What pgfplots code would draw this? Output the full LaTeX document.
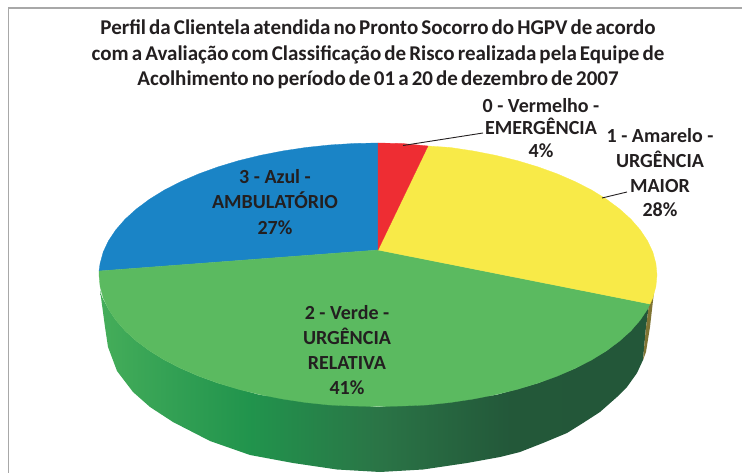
\documentclass[border=0pt]{standalone}
\usepackage{pgfplots}
\pgfplotsset{compat=1.18}
\usepackage{fontspec}
\setmainfont{Carlito}

\definecolor{vermelho}{HTML}{EE2D33}
\definecolor{amarelo}{HTML}{F8EA48}
\definecolor{verde}{HTML}{5BBA60}
\definecolor{azul}{HTML}{1A84C6}
\definecolor{texto}{HTML}{231F20}
\definecolor{moldura}{HTML}{A8A8A8}
\definecolor{lado}{HTML}{7F7434}

% side of the pie, 25bp = x 100 and 75bp = x 650
\pgfdeclarehorizontalshading{ladoverde}{100bp}{
  rgb(0bp)=(0.27,0.68,0.35);
  rgb(25bp)=(0.27,0.68,0.35);
  rgb(31.4bp)=(0.20,0.63,0.33);
  rgb(38.6bp)=(0.13,0.58,0.30);
  rgb(50.5bp)=(0.165,0.455,0.275);
  rgb(62.3bp)=(0.137,0.345,0.225);
  rgb(75bp)=(0.137,0.34,0.225);
  rgb(100bp)=(0.137,0.34,0.225)}

\newcommand{\titulofonte}{\fontsize{21}{25.5}\selectfont\bfseries\spaceskip=3.1pt\relax}

\begin{document}
\begin{tikzpicture}
\useasboundingbox (0,0) rectangle (742pt,473pt);
\begin{axis}[
  at={(0,0)}, anchor=south west,
  scale only axis, width=742pt, height=473pt,
  xmin=0, xmax=742, ymin=0, ymax=473, y dir=reverse,
  hide axis, clip=false, no markers,
  every axis plot/.append style={line width=0.3pt},
]
% frame
\addplot[moldura, line width=1.4pt] coordinates {(8.5,473) (8.5,8) (742,8)};

% side wall
\addplot[draw=none, shade, shading=ladoverde] coordinates {
  (100,290) (102,297) (108.5,309.2) (115.8,320.1) (125.1,330.8) (136.4,341) (149.4,350.7)
  (164.3,359.9) (180.7,368.3) (198.7,376.1) (218,383.1) (260,395) (378,407) (496,395)
  (538,383.1) (575.3,368.3) (606.6,350.7) (630.9,330.8) (649,304)
  (645.7,330) (643,360) (637,373) (627,387) (617,397) (600,412) (583,423) (567,433)
  (543,443) (520,452) (500,457) (467,463) (423,469.5) (380,472) (337,469.5) (293,463)
  (250,455) (210,441) (173,422) (150,407) (133,392) (117,371) (108,347) (105,327)
} -- cycle;
\addplot[draw=none, fill=lado] coordinates {
  (654,292) (650,327) (646,352) (643,360) (645.7,330) (649,304)
} -- cycle;

% top of the pie
\addplot[draw=azul, fill=azul] coordinates {
  (378,250) (99,271) (100.1,263.5) (103.2,252.1) (108.5,240.8) (115.8,229.9) (125.1,219.2)
  (136.4,209) (149.4,199.3) (164.3,190.1) (180.7,181.7) (198.7,173.9) (218,166.9)
  (238.5,160.7) (260.1,155.4) (282.6,151) (305.8,147.5) (329.6,145) (353.7,143.5) (378,143)
} -- cycle;
\addplot[draw=verde, fill=verde] coordinates {
  (378,250) (650,304) (647.5,309.2) (640.2,320.1) (630.9,330.8) (619.6,341) (606.6,350.7)
  (591.7,359.9) (575.3,368.3) (557.3,376.1) (538,383.1) (517.5,389.3) (495.9,394.6)
  (473.4,399) (450.2,402.5) (426.4,405) (402.3,406) (378,406.5) (353.7,406) (329.6,405)
  (305.8,402.5) (282.6,399) (260.1,394.6) (238.5,389.3) (218,383.1) (198.7,376.1)
  (180.7,368.3) (164.3,359.9) (149.4,350.7) (136.4,341) (125.1,330.8) (115.8,320.1)
  (108.5,309.2) (103.2,297.9) (100.1,286.5) (99,275) (99,271)
} -- cycle;
\addplot[draw=amarelo, fill=amarelo] coordinates {
  (378,250) (428,146) (450.2,147.5) (473.4,151) (495.9,155.4) (517.5,160.7) (538,166.9)
  (557.3,173.9) (575.3,181.7) (591.7,190.1) (606.6,199.3) (619.6,209) (630.9,219.2)
  (640.2,229.9) (647.5,240.8) (652.8,252.1) (655.9,263.5) (657,275) (655.9,286.5)
  (652.8,297.9) (650,304)
} -- cycle;
\addplot[draw=vermelho, fill=vermelho] coordinates {
  (378,250) (378,143) (402.3,143.5) (428,146)
} -- cycle;

% leader lines
\addplot[texto, line width=0.9pt] coordinates {(403,145.5) (483,133)};
\addplot[texto, line width=0.9pt] coordinates {(602,198) (627,192)};

\path[text=texto, align=center, inner sep=0pt]
  (axis cs:378,54.5) node[font=\titulofonte]
    {Perfil da Clientela atendida no Pronto Socorro do HGPV de acordo\\
    com a Avaliação com Classificação de Risco realizada pela Equipe de\\
    Acolhimento no período de 01 a 20 de dezembro de 2007}
  (axis cs:541,128) node[font=\fontsize{20}{22.5}\selectfont\bfseries] {0 - Vermelho -\\EMERGÊNCIA\\4\%}
  (axis cs:660,173) node[font=\fontsize{20}{24.7}\selectfont\bfseries] {1 - Amarelo -\\URGÊNCIA\\MAIOR\\28\%}
  (axis cs:275,202) node[font=\fontsize{20}{25.5}\selectfont\bfseries] {3 - Azul -\\AMBULATÓRIO\\27\%}
  (axis cs:347,350) node[font=\fontsize{20}{25}\selectfont\bfseries] {2 - Verde -\\URGÊNCIA\\RELATIVA\\41\%};
\end{axis}
\end{tikzpicture}
\end{document}
